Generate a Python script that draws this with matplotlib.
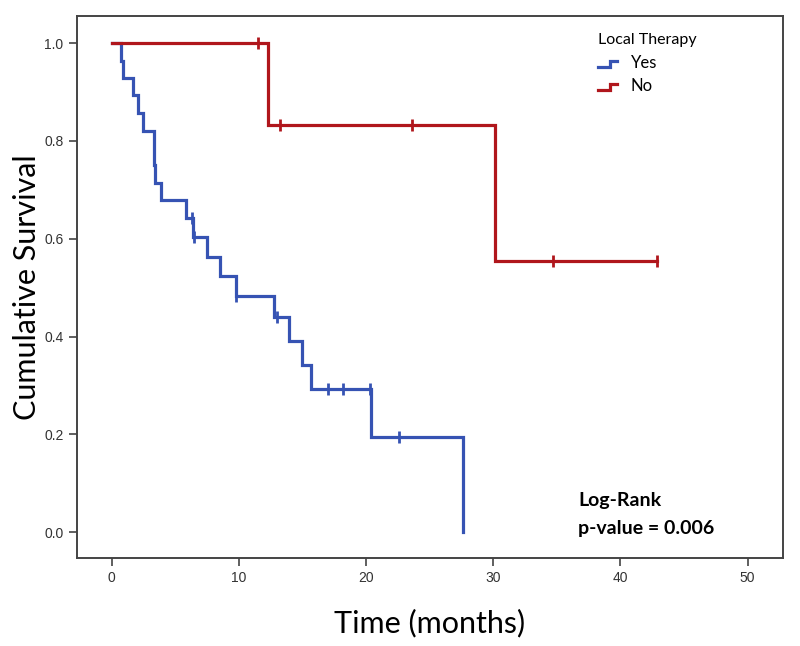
import numpy as np
import matplotlib
matplotlib.use("Agg")
import matplotlib.pyplot as plt
from matplotlib.lines import Line2D
from matplotlib.legend_handler import HandlerBase


# Kaplan-Meier steps (time in months, cumulative survival)
yes_times = [0, 0.7, 0.85, 1.65, 2.1, 2.45, 3.3, 3.35, 3.4, 3.9, 5.8, 6.4,
             7.5, 8.5, 9.75, 12.75, 13.95, 14.95, 15.7, 20.4, 27.6]
yes_surv = [1.0, 0.964, 0.929, 0.893, 0.857, 0.821, 0.786, 0.750, 0.714, 0.679,
            0.643, 0.603, 0.563, 0.523, 0.483, 0.439, 0.390, 0.341, 0.293,
            0.195, 0.0]
yes_censor = [6.3, 6.45, 9.8, 13.0, 17.0, 18.2, 20.3, 22.6]

no_times = [0, 12.3, 30.1]
no_surv = [1.0, 0.833, 0.555]
no_censor = [11.5, 13.2, 23.6, 34.7, 42.9]

x_ticks = [0, 10, 20, 30, 40, 50]
y_ticks = [0.0, 0.2, 0.4, 0.6, 0.8, 1.0]

BLUE = '#3653b3'
RED = '#b0161c'


def step_value(times, surv, t):
    idx = np.searchsorted(times, t, side='right') - 1
    return np.asarray(surv)[idx]


def draw_km(ax, times, surv, censor, color, end=None):
    xs = list(times)
    ys = list(surv)
    if end is not None and end > xs[-1]:
        xs.append(end)
        ys.append(ys[-1])
    ax.step(xs, ys, where='post', color=color, lw=2.3, solid_joinstyle='miter')
    cy = step_value(times, surv, censor)
    ax.plot(censor, cy, ls='none', marker='|', ms=9, mew=2, color=color)


class StepHandler(HandlerBase):
    def create_artists(self, legend, orig_handle, xdescent, ydescent,
                       width, height, fontsize, trans):
        x0 = -xdescent
        y0 = -ydescent
        xs = [x0, x0 + 0.62 * width, x0 + 0.62 * width, x0 + width]
        ys = [y0 + 0.1 * height, y0 + 0.1 * height, y0 + 0.6 * height, y0 + 0.6 * height]
        ln = Line2D(xs, ys, color=orig_handle.get_color(), lw=2.3,
                    solid_joinstyle='miter', transform=trans)
        return [ln]


fig = plt.figure(figsize=(8, 6.46), dpi=100)
ax = fig.add_axes([0.096, 0.136, 0.883, 0.839])

draw_km(ax, yes_times, yes_surv, yes_censor, BLUE)
draw_km(ax, no_times, no_surv, no_censor, RED, end=no_censor[-1])

ax.set_xlim(-2.75, 52.8)
ax.set_ylim(-0.053, 1.055)
ax.set_xticks(x_ticks)
ax.set_yticks(y_ticks)
ax.set_xticklabels([str(v) for v in x_ticks])
ax.set_yticklabels([f'{v:.1f}' for v in y_ticks])

for s in ax.spines.values():
    s.set_color('#444444')
    s.set_linewidth(1.4)
ax.tick_params(direction='out', length=6, width=1.2, color='#444444',
               labelsize=10, labelcolor='#333333')
for lab in ax.get_xticklabels() + ax.get_yticklabels():
    lab.set_family('Liberation Sans')

ax.set_xlabel('Time (months)', fontsize=22, family='Lato', labelpad=17)
ax.set_ylabel('Cumulative Survival', fontsize=22, family='Lato', labelpad=2)

handles = [Line2D([], [], color=BLUE), Line2D([], [], color=RED)]
leg = ax.legend(handles, ['Yes', 'No'], title='Local Therapy',
                handler_map={Line2D: StepHandler()},
                loc='upper left', bbox_to_anchor=(0.722, 0.99), frameon=False,
                prop={'family': 'Lato', 'size': 12}, handlelength=1.1,
                handletextpad=0.85, labelspacing=0.45, borderpad=0.2)
leg.get_title().set_fontfamily('Lato')
leg.get_title().set_fontsize(11.5)
leg._legend_box.align = 'left'

ax.text(0.71, 0.122, 'Log-Rank\np-value = 0.006', transform=ax.transAxes,
        fontsize=14, fontweight='bold', family='Lato', va='top', ha='left',
        linespacing=1.75)

fig.savefig('out.png', dpi=100)
